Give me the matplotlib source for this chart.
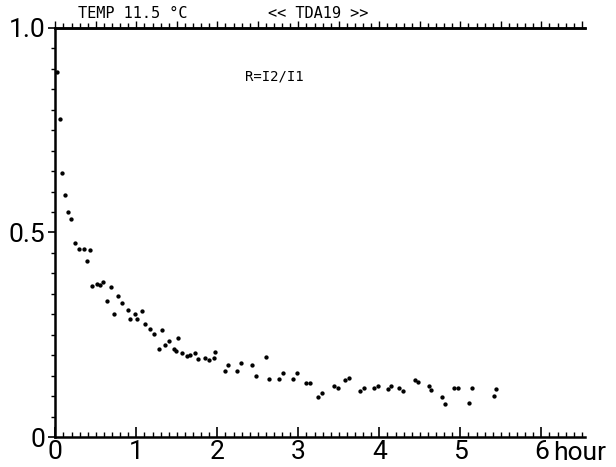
import matplotlib
matplotlib.use("Agg")
import matplotlib.pyplot as plt
from matplotlib.ticker import MultipleLocator, FixedLocator

# data (hours, ratio R = I2/I1)
hours = [0.017, 0.058, 0.079, 0.120, 0.159, 0.198, 0.247, 0.289, 0.348, 0.388,
         0.425, 0.447, 0.515, 0.552, 0.593, 0.638, 0.684, 0.722, 0.778, 0.823,
         0.901, 0.926, 0.988, 1.005, 1.070, 1.111, 1.173, 1.215, 1.277, 1.311,
         1.358, 1.404, 1.462, 1.484, 1.517, 1.567, 1.620, 1.660, 1.728, 1.765,
         1.851, 1.893, 1.957, 1.975, 2.095, 2.132, 2.248, 2.289, 2.428, 2.474,
         2.601, 2.642, 2.765, 2.809, 2.935, 2.980, 3.098, 3.147, 3.237, 3.293,
         3.435, 3.484, 3.580, 3.628, 3.765, 3.814, 3.937, 3.988, 4.104, 4.138,
         4.249, 4.296, 4.441, 4.480, 4.610, 4.635, 4.770, 4.815, 4.919, 4.968,
         5.104, 5.141, 5.419, 5.437]
ratio = [0.892, 0.777, 0.646, 0.591, 0.551, 0.534, 0.474, 0.460, 0.460, 0.430,
         0.456, 0.370, 0.375, 0.372, 0.379, 0.332, 0.366, 0.300, 0.345, 0.328,
         0.311, 0.289, 0.301, 0.289, 0.307, 0.276, 0.265, 0.251, 0.215, 0.261,
         0.226, 0.235, 0.215, 0.210, 0.243, 0.206, 0.197, 0.201, 0.205, 0.190,
         0.193, 0.189, 0.193, 0.208, 0.161, 0.177, 0.161, 0.181, 0.176, 0.148,
         0.196, 0.141, 0.141, 0.156, 0.141, 0.157, 0.131, 0.131, 0.098, 0.108,
         0.124, 0.119, 0.140, 0.144, 0.112, 0.121, 0.119, 0.125, 0.117, 0.125,
         0.120, 0.112, 0.139, 0.134, 0.124, 0.115, 0.097, 0.080, 0.119, 0.119,
         0.084, 0.119, 0.101, 0.117]

x_ticks = [0, 1, 2, 3, 4, 5, 6]
x_ticklabels = ["0", "1", "2", "3", "4", "5", "6"]
y_ticks = [0, 0.5, 1.0]
y_ticklabels = ["0", "0.5", "1.0"]

fig = plt.figure(figsize=(6.16, 4.67), dpi=100)
ax = fig.add_axes([0.0898, 0.0642, 0.86, 0.876])

ax.plot(hours, ratio, linestyle="none", marker="o", markersize=2.1,
        color="black")

ax.set_xlim(0, 6.54)
ax.set_ylim(0, 1.0)

for s in ["left", "bottom", "top"]:
    ax.spines[s].set_linewidth(1.8)
ax.spines["right"].set_visible(False)

tick_font = dict(family="Roboto", weight="normal", size=19)

ax.xaxis.set_major_locator(FixedLocator(x_ticks))
ax.xaxis.set_minor_locator(MultipleLocator(0.1))
ax.set_xticklabels(x_ticklabels, fontdict=tick_font)
ax.tick_params(axis="x", which="major", direction="in", length=7, width=1.2,
               pad=2, top=False)
ax.tick_params(axis="x", which="minor", direction="in", length=3.5, width=1.0,
               top=False)

ax.yaxis.set_major_locator(FixedLocator(y_ticks))
ax.yaxis.set_minor_locator(MultipleLocator(0.05))
ax.set_yticklabels(y_ticklabels, fontdict=tick_font)
ax.tick_params(axis="y", which="major", direction="out", length=5, width=1.2,
               pad=2)
ax.tick_params(axis="y", which="minor", direction="out", length=3, width=1.0)

top = ax.secondary_xaxis("top")
top.xaxis.set_major_locator(MultipleLocator(0.5))
top.xaxis.set_minor_locator(MultipleLocator(0.1))
top.tick_params(which="major", direction="out", length=5, width=1.0,
                labeltop=False)
top.tick_params(which="minor", direction="out", length=3.5, width=1.0)
top.spines["top"].set_linewidth(1.8)

fig.text(553 / 616, 7 / 467, "hour", ha="left", va="baseline",
         fontdict=tick_font)

mono = dict(family="DejaVu Sans Mono", size=11)
fig.text(78 / 616, 1 - 14 / 467, "TEMP 11.5 \u00b0C", ha="left", va="center",
         fontdict=mono)
fig.text(268 / 616, 1 - 14 / 467, "<< TDA19 >>", ha="left", va="center",
         fontdict=mono)
fig.text(245 / 616, 1 - 76 / 467, "R=I2/I1", ha="left", va="center",
         fontdict=dict(family="DejaVu Sans Mono", size=10))

fig.savefig("out.png", dpi=100)
